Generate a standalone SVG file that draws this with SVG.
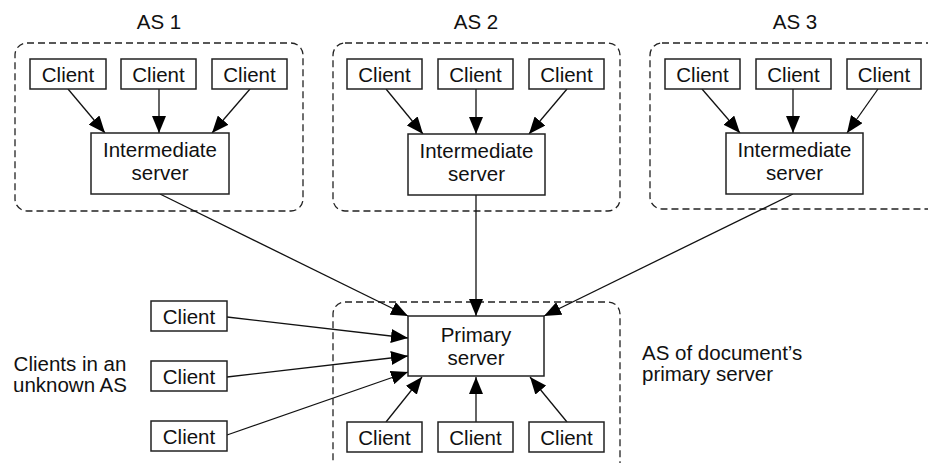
<svg xmlns="http://www.w3.org/2000/svg" width="928" height="463" viewBox="0 0 928 463">
<style>
  .as { fill: none; stroke: #222; stroke-width: 1.3; stroke-dasharray: 7 4; }
  .box { fill: #fff; stroke: #222; stroke-width: 1.5; }
  .t { font-family: "Liberation Sans", Arial, sans-serif; font-size: 20.5px; fill: #111; text-anchor: middle; }
  .tl { font-family: "Liberation Sans", Arial, sans-serif; font-size: 20.5px; fill: #111; }
  .c line { stroke: #111; stroke-width: 1.3; marker-end: url(#ah); }
</style>
<defs>
  <marker id="ah" markerUnits="userSpaceOnUse" markerWidth="17" markerHeight="14" refX="17" refY="7" orient="auto">
    <path d="M0,0 L17,7 L0,14 z" fill="#000"/>
  </marker>
</defs>
<rect width="928" height="463" fill="#fff"/>

<g id="as1">
  <rect class="as" x="15" y="43" width="288" height="168" rx="12"/>
  <text class="t" x="159" y="29">AS 1</text>
</g>
<g id="as2">
  <rect class="as" x="333" y="43" width="287" height="168" rx="12"/>
  <text class="t" x="476" y="29">AS 2</text>
</g>
<g id="as3">
  <rect class="as" x="650" y="43" width="300" height="166" rx="12"/>
  <text class="t" x="795" y="29">AS 3</text>
</g>
<g id="asp">
  <rect class="as" x="333" y="302" width="287" height="180" rx="12"/>
  <text class="tl" x="642" y="360">AS of document’s</text>
  <text class="tl" x="642" y="381">primary server</text>
</g>
<g id="unknown">
  <text class="t" x="70" y="371">Clients in an</text>
  <text class="t" x="70" y="392">unknown AS</text>
</g>

<g class="c" id="connectors">
  <line x1="68" y1="89" x2="105" y2="133"/>
  <line x1="159" y1="89" x2="159" y2="133"/>
  <line x1="250" y1="89" x2="212" y2="133"/>
  <line x1="386" y1="89" x2="423" y2="134"/>
  <line x1="476" y1="89" x2="476" y2="134"/>
  <line x1="567" y1="89" x2="529" y2="134"/>
  <line x1="702" y1="89" x2="740" y2="133"/>
  <line x1="793" y1="89" x2="793" y2="133"/>
  <line x1="878" y1="89" x2="847" y2="133"/>
  <line x1="160" y1="194" x2="408" y2="316"/>
  <line x1="476" y1="195" x2="476" y2="316"/>
  <line x1="793" y1="194" x2="544" y2="316"/>
  <line x1="227" y1="317" x2="408" y2="338"/>
  <line x1="227" y1="377" x2="408" y2="356"/>
  <line x1="227" y1="435" x2="408" y2="372"/>
  <line x1="386" y1="422" x2="422" y2="377"/>
  <line x1="476" y1="422" x2="476" y2="377"/>
  <line x1="567" y1="422" x2="530" y2="377"/>
</g>

<g id="c1a"><rect class="box" x="30" y="59" width="76" height="30"/><text class="t" x="68" y="81.5">Client</text></g>
<g id="c1b"><rect class="box" x="121" y="59" width="75" height="30"/><text class="t" x="158.5" y="81.5">Client</text></g>
<g id="c1c"><rect class="box" x="212" y="59" width="75" height="30"/><text class="t" x="249.5" y="81.5">Client</text></g>
<g id="i1"><rect class="box" x="91" y="133" width="138" height="61"/><text class="t" x="160" y="157">Intermediate</text><text class="t" x="160" y="180">server</text></g>

<g id="c2a"><rect class="box" x="347" y="59" width="75" height="30"/><text class="t" x="384.5" y="81.5">Client</text></g>
<g id="c2b"><rect class="box" x="438" y="59" width="75" height="30"/><text class="t" x="475.5" y="81.5">Client</text></g>
<g id="c2c"><rect class="box" x="529" y="59" width="75" height="30"/><text class="t" x="566.5" y="81.5">Client</text></g>
<g id="i2"><rect class="box" x="408" y="134" width="137" height="61"/><text class="t" x="476.5" y="158">Intermediate</text><text class="t" x="476.5" y="181">server</text></g>

<g id="c3a"><rect class="box" x="665" y="59" width="75" height="30"/><text class="t" x="702.5" y="81.5">Client</text></g>
<g id="c3b"><rect class="box" x="756" y="59" width="75" height="30"/><text class="t" x="793.5" y="81.5">Client</text></g>
<g id="c3c"><rect class="box" x="847" y="59" width="74" height="30"/><text class="t" x="884" y="81.5">Client</text></g>
<g id="i3"><rect class="box" x="726" y="133" width="137" height="61"/><text class="t" x="794.5" y="157">Intermediate</text><text class="t" x="794.5" y="180">server</text></g>

<g id="primary"><rect class="box" x="408" y="316" width="136" height="60"/><text class="t" x="476" y="342">Primary</text><text class="t" x="476" y="365">server</text></g>

<g id="cl1"><rect class="box" x="151" y="301" width="76" height="30"/><text class="t" x="189" y="323.5">Client</text></g>
<g id="cl2"><rect class="box" x="151" y="361" width="76" height="30"/><text class="t" x="189" y="383.5">Client</text></g>
<g id="cl3"><rect class="box" x="151" y="421" width="76" height="30"/><text class="t" x="189" y="443.5">Client</text></g>

<g id="cp1"><rect class="box" x="347" y="422" width="75" height="30"/><text class="t" x="384.5" y="444.5">Client</text></g>
<g id="cp2"><rect class="box" x="438" y="422" width="75" height="30"/><text class="t" x="475.5" y="444.5">Client</text></g>
<g id="cp3"><rect class="box" x="529" y="422" width="75" height="30"/><text class="t" x="566.5" y="444.5">Client</text></g>
</svg>
